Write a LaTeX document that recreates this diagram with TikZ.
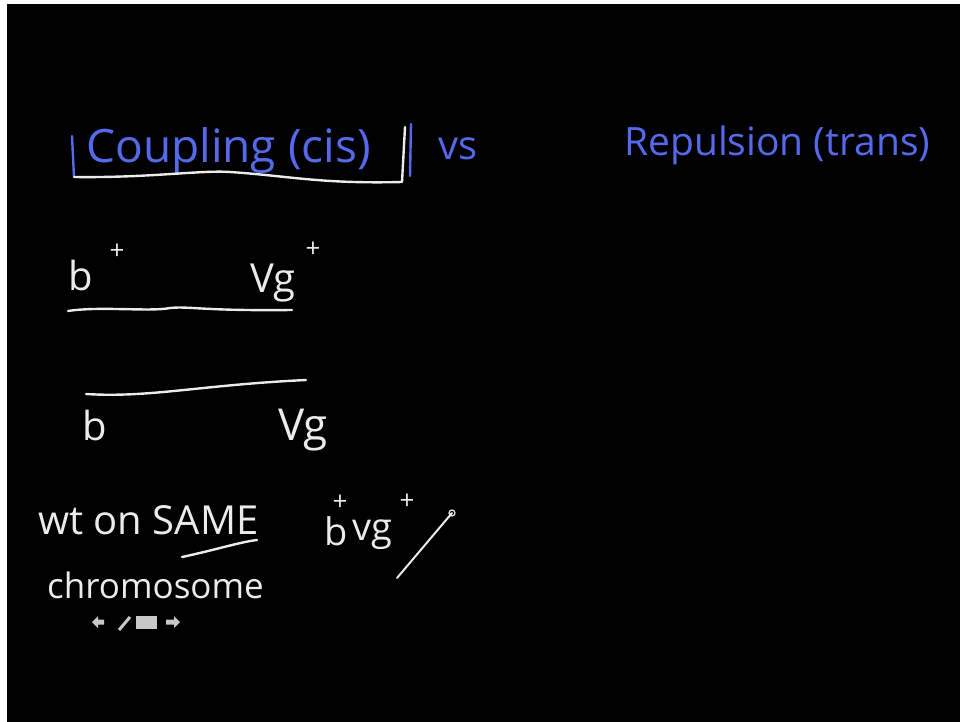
\documentclass[tikz,border=0pt]{standalone}
\usepackage{fontspec}
\setmainfont{Open Sans}
\definecolor{chalkblue}{RGB}{85,105,235}
\definecolor{chalkwhite}{RGB}{235,235,235}
\definecolor{icongray}{RGB}{200,200,200}
\newcommand{\fsz}[1]{\fontsize{#1}{#1}\selectfont}
\begin{document}
\begin{tikzpicture}[x=1pt,y=-1pt,
  bluetxt/.style={text=chalkblue,inner sep=0pt,anchor=base west},
  whitetxt/.style={text=chalkwhite,inner sep=0pt,anchor=base west},
  plus/.style={text=chalkwhite,inner sep=0pt,font=\fsz{26}},
  chalk/.style={draw=chalkwhite,line width=2.4pt,line cap=round,line join=round},
  bluechalk/.style={draw=chalkblue,line width=2.4pt,line cap=round},
  icon/.style={fill=icongray,draw=none}]
\useasboundingbox (0,0) rectangle (960,722);
\fill[white] (0,0) rectangle (960,722);
\fill[black] (7,4) rectangle (960,722);
% titles
\node[bluetxt,font=\fsz{46}] (coup) at (86,163) {Coupling (cis)};
\node[bluetxt,font=\fsz{40}] (vs) at (438,160) {vs};
\node[bluetxt,font=\fsz{39}] (rep) at (624,156) {Repulsion (trans)};
% bracket under coupling
\coordinate (bl1) at (72,136);
\coordinate (bl2) at (74,177);
\coordinate (br1) at (405,127);
\coordinate (br2) at (402,182);
\draw[bluechalk] (bl1) -- (bl2);
\draw[chalk] (bl2) .. controls (150,178) and (200,170) .. (230,172)
  .. controls (290,176) and (320,184) .. (br2) -- (br1);
\draw[bluechalk] (411,124) -- (410,176);
% cis chromosomes
\node[whitetxt,font=\fsz{40}] (b1) at (68,290) {b};
\node[plus] (b1p) at (117,252) {+};
\node[whitetxt,font=\fsz{40}] (vg1) at (250,292) {Vg};
\node[plus] (vg1p) at (313,250) {+};
\coordinate (l1a) at (68,311);
\coordinate (l1b) at (292,310);
\draw[chalk] (l1a) .. controls (100,306) and (150,312) .. (170,308)
  .. controls (190,306) and (200,311) .. (l1b);
\coordinate (l2a) at (86,394);
\coordinate (l2b) at (306,380);
\draw[chalk] (l2a) .. controls (150,398) and (200,385) .. (l2b);
\node[whitetxt,font=\fsz{40}] (b2) at (82,440) {b};
\node[whitetxt,font=\fsz{44}] (vg2) at (278,440) {Vg};
% bottom notes
\node[whitetxt,font=\fsz{40}] (wt) at (38,534) {wt on SAME};
\coordinate (ula) at (182,557);
\coordinate (ulb) at (257,540);
\draw[chalk] (ula) .. controls (215,550) and (240,542) .. (ulb);
\node[whitetxt,font=\fsz{35}] (chr) at (47,598) {chromosome};
\node[whitetxt,font=\fsz{38}] (bb) at (324,545) {b};
\node[whitetxt,font=\fsz{38}] (bvg) at (352,540) {vg};
\node[plus] (bvgp1) at (340,503) {+};
\node[plus] (bvgp2) at (407,502) {+};
\coordinate (pen1) at (397,578);
\coordinate (pen2) at (452,513);
\draw[chalk,line width=2pt] (pen1) -- (pen2);
\draw[draw=chalkwhite,line width=1.2pt] (pen2) circle (3);
% icon bar
\fill[icon] (92,622) -- (98,616) -- (98,619.5) -- (104,619.5) -- (104,624.5) -- (98,624.5) -- (98,628) -- cycle;
\draw[icongray,line width=3pt] (119,630) -- (130,617);
\fill[icon] (136,616) rectangle (157,629);
\fill[icon] (180,622) -- (174,616) -- (174,619.5) -- (166,619.5) -- (166,624.5) -- (174,624.5) -- (174,628) -- cycle;
\end{tikzpicture}
\end{document}
